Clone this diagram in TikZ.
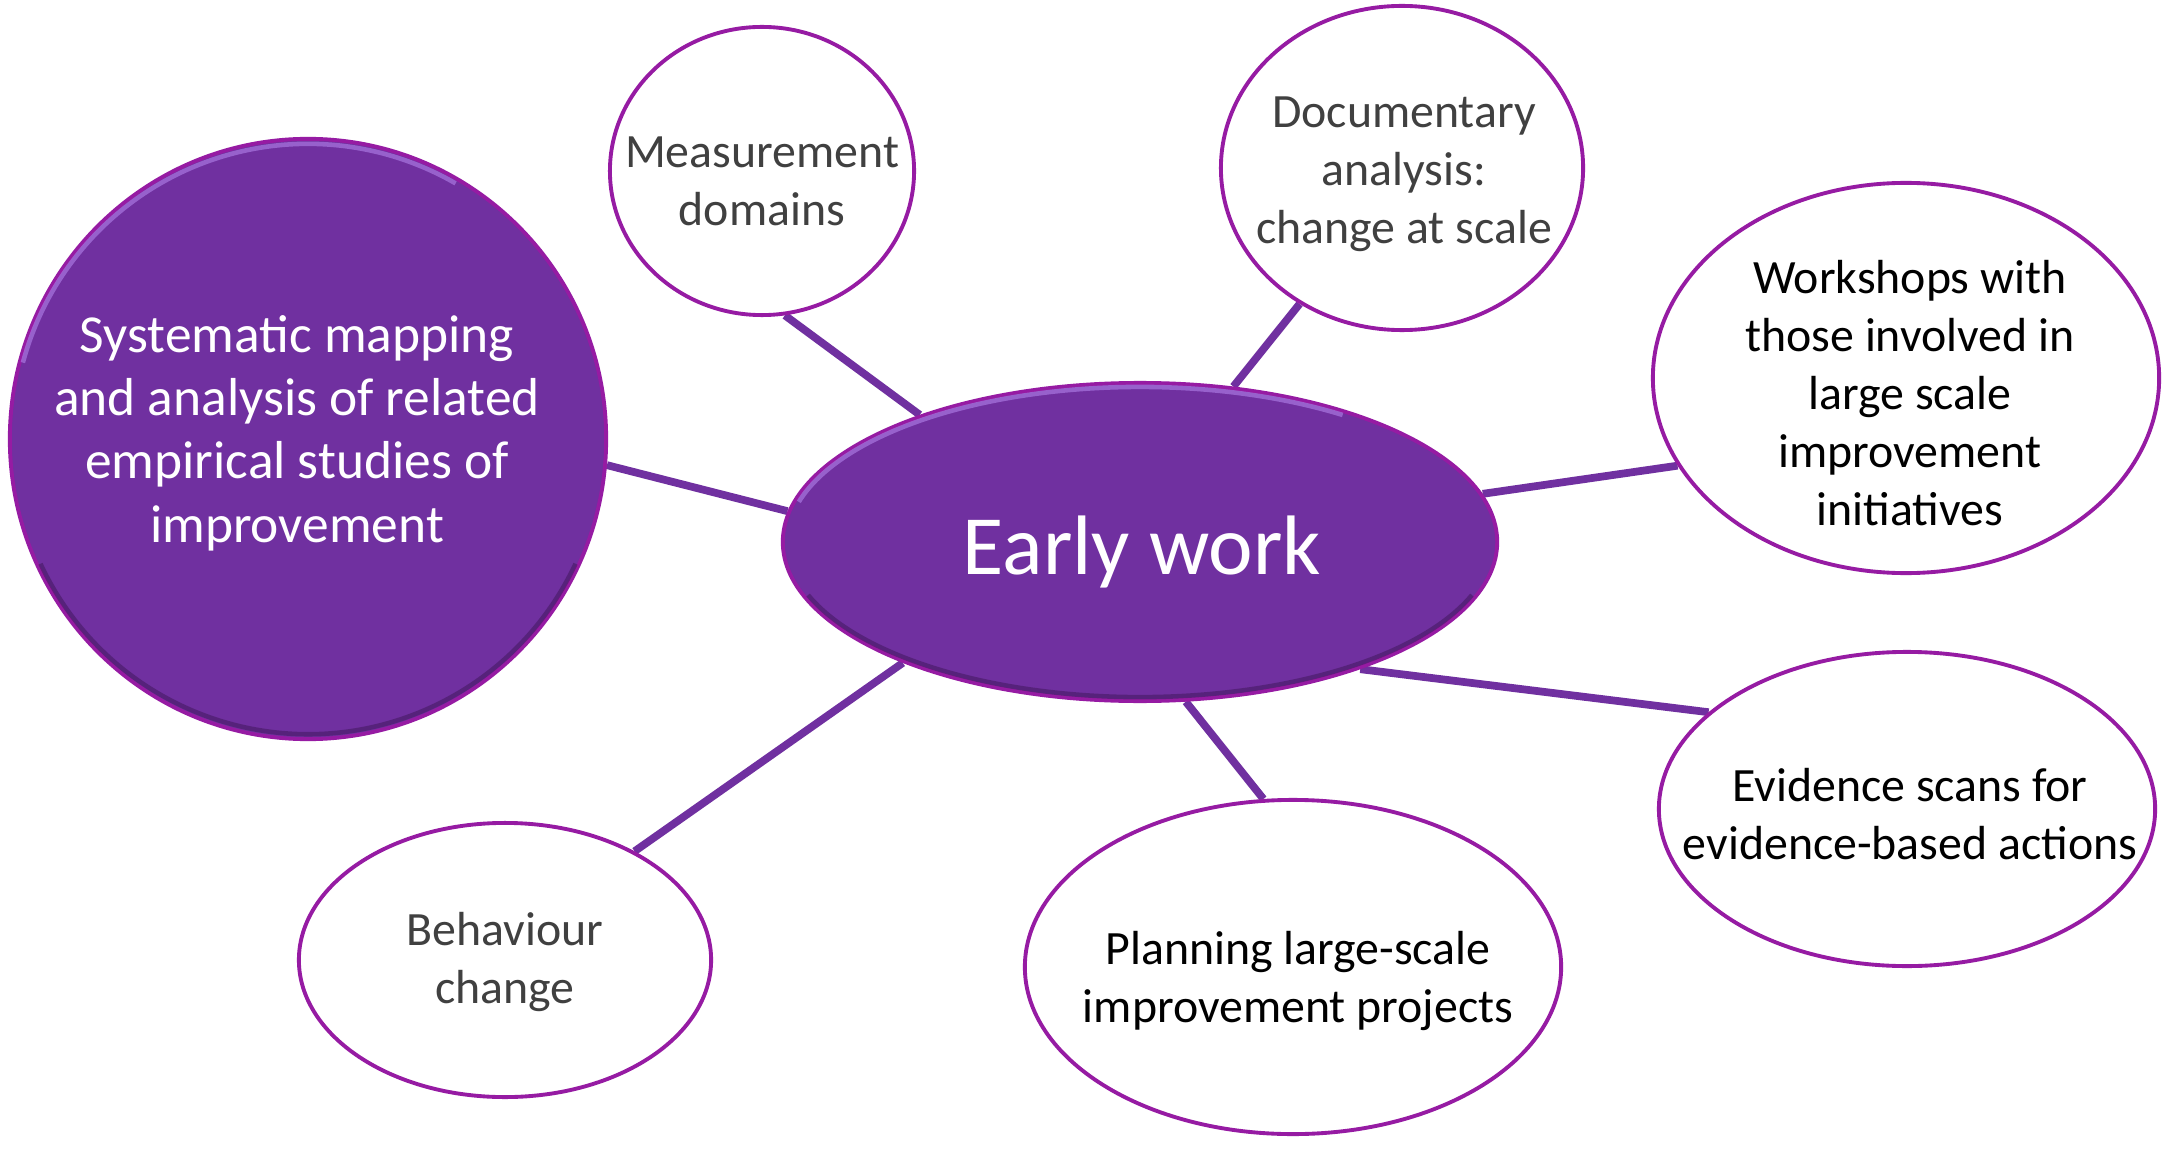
\documentclass[tikz,border=0pt]{standalone}
\usepackage{fontspec}
\setmainfont{Carlito}
\usepackage{xcolor}
\usetikzlibrary{shapes.geometric, backgrounds}
\definecolor{ewpurple}{HTML}{7030A0}
\definecolor{ewrim}{HTML}{961BA3}
\definecolor{ewgrey}{HTML}{404040}
\definecolor{ewlight}{HTML}{A877E0}
\definecolor{ewdark}{HTML}{3E1658}
\tikzstyle{hub} = [ellipse, draw=ewrim, line width=1.1pt, fill=ewpurple, inner sep=0pt]
\tikzstyle{topic} = [ellipse, draw=ewrim, line width=1.1pt, fill=white, inner sep=0pt]
\tikzstyle{topictext} = [align=center, inner sep=0pt, font=\fontsize{13.6}{16.5}\selectfont]
\tikzstyle{spoke} = [line width=2.2pt, draw=ewpurple]
\tikzstyle{hilite} = [line width=1.3pt, ewlight, opacity=0.7]
\tikzstyle{shade} = [line width=1.3pt, ewdark, opacity=0.5]

\begin{document}
\begin{tikzpicture}[x=0.01cm, y=-0.01cm]
\useasboundingbox (0,0) rectangle (2164,1152);

% Centre
\node (early) [hub, minimum width=7.14cm, minimum height=3.18cm] at (1140,542) {};
\node (early-txt) [white, inner sep=0pt, font=\fontsize{24}{28}\selectfont] at (1142,552) {Early work};

% Big purple circle
\node (sys) [hub, minimum width=5.96cm, minimum height=6cm] at (308,439) {};
\node (sys-txt) [topictext, white, font=\fontsize{15.2}{18}\selectfont] at (297,433) {Systematic mapping\\and analysis of related\\empirical studies of\\improvement};

% Bevel on the purple shapes
\draw[hilite] ([shift={(165:3.53cm and 1.55cm)}]early.center) arc[start angle=165, end angle=55, x radius=3.53cm, y radius=1.55cm];
\draw[shade] ([shift={(200:3.53cm and 1.55cm)}]early.center) arc[start angle=200, end angle=340, x radius=3.53cm, y radius=1.55cm];
\draw[hilite] ([shift={(165:2.95cm)}]sys.center) arc[start angle=165, end angle=60, radius=2.95cm];
\draw[shade] ([shift={(205:2.95cm)}]sys.center) arc[start angle=205, end angle=335, radius=2.95cm];

% Topics
\node (meas) [topic, minimum width=3.04cm, minimum height=2.88cm] at (762,171) {};
\node (meas-txt) [topictext, ewgrey] at (762,181) {Measurement\\domains};

\node (doc) [topic, minimum width=3.62cm, minimum height=3.24cm] at (1402,168) {};
\node (doc-txt) [topictext, ewgrey] at (1404,174) {Documentary\\analysis:\\change at scale};

\node (work) [topic, minimum width=5.06cm, minimum height=3.9cm] at (1906,378) {};
\node (work-txt) [topictext] at (1910,393) {Workshops with\\those involved in\\large scale\\improvement\\initiatives};

\node (evid) [topic, minimum width=4.96cm, minimum height=3.14cm] at (1907,809) {};
\node (evid-txt) [topictext] at (1910,814) {Evidence scans for\\evidence-based actions};

\node (plan) [topic, minimum width=5.36cm, minimum height=3.34cm] at (1293,967) {};
\node (plan-txt) [topictext] at (1298,981) {Planning large-scale\\improvement projects};

\node (behav) [topic, minimum width=4.12cm, minimum height=2.74cm] at (505,960) {};
\node (behav-txt) [topictext, ewgrey] at (505,962) {Behaviour\\change};

% Spokes
\begin{scope}[on background layer]
\fill[white] (0,0) rectangle (2164,1152);
\draw[spoke] (sys.-5.8) -- (early.175.6);
\draw[spoke] (meas.279) -- (early.150.4);
\draw[spoke] (doc.233) -- (early.59);
\draw[spoke] (work.201.4) -- (early.8.2);
\draw[spoke] (evid.154.4) -- (early.330);
\draw[spoke] (plan.100.8) -- (early.286.5);
\draw[spoke] (behav.40.5) -- (early.207);
\end{scope}

\end{tikzpicture}
\end{document}
